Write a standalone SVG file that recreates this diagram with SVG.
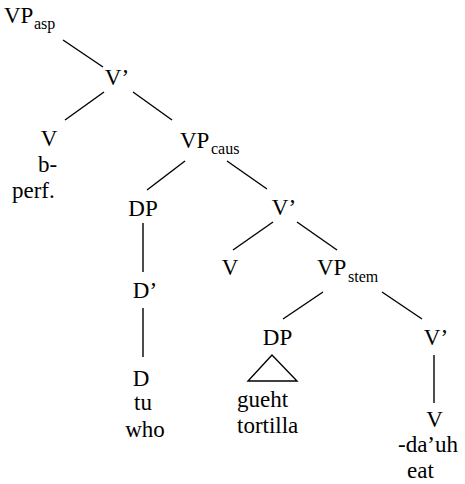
<svg xmlns="http://www.w3.org/2000/svg" width="465" height="484" viewBox="0 0 465 484" font-family="Liberation Serif, serif">
<style>
text{font-family:'Liberation Serif',serif;font-size:23px;fill:#000}
.m{text-anchor:middle}
.sub{font-size:16px}
.e{stroke:#000;stroke-width:1.4;fill:none}
</style>
<rect width="465" height="484" fill="#fff"/>
<g id="connectors">
<line class="e" x1="63" y1="40" x2="103" y2="67"/>
<line class="e" x1="104" y1="92" x2="65" y2="120"/>
<line class="e" x1="133" y1="92" x2="172" y2="120"/>
<line class="e" x1="185" y1="161" x2="147" y2="190"/>
<line class="e" x1="227" y1="161" x2="267" y2="189"/>
<line class="e" x1="143" y1="223" x2="143" y2="272"/>
<line class="e" x1="143" y1="308" x2="143" y2="357"/>
<line class="e" x1="273" y1="222" x2="233" y2="250"/>
<line class="e" x1="297" y1="222" x2="337" y2="250"/>
<line class="e" x1="323" y1="292" x2="283" y2="319"/>
<line class="e" x1="382" y1="292" x2="422" y2="319"/>
<line class="e" x1="434" y1="355" x2="434" y2="403"/>
</g>
<g id="vp-asp"><text x="4" y="23">VP</text><text class="sub" x="34" y="29">asp</text></g>
<g id="vbar-1"><text class="m" x="117" y="85">V’</text></g>
<g id="v-1"><text class="m" x="49" y="146">V</text><text x="38" y="172">b-</text><text x="12" y="198">perf.</text></g>
<g id="vp-caus"><text x="180" y="148">VP</text><text class="sub" x="211" y="154">caus</text></g>
<g id="dp-1"><text class="m" x="143" y="216">DP</text></g>
<g id="dbar"><text class="m" x="145" y="298">D’</text></g>
<g id="d"><text class="m" x="141" y="386">D</text><text class="m" x="143" y="410">tu</text><text class="m" x="145" y="437">who</text></g>
<g id="vbar-2"><text class="m" x="284" y="215">V’</text></g>
<g id="v-2"><text class="m" x="230" y="275">V</text></g>
<g id="vp-stem"><text x="317" y="275">VP</text><text class="sub" x="348" y="282">stem</text></g>
<g id="dp-2"><text class="m" x="277.5" y="345">DP</text><polygon class="e" points="272,355 248,381 297,381"/><text x="237" y="407">gueht</text><text x="237" y="433">tortilla</text></g>
<g id="vbar-3"><text class="m" x="436" y="345">V’</text></g>
<g id="v-3"><text class="m" x="434.5" y="427">V</text><text class="m" x="428" y="452">-da’uh</text><text class="m" x="420.5" y="478">eat</text></g>
</svg>
